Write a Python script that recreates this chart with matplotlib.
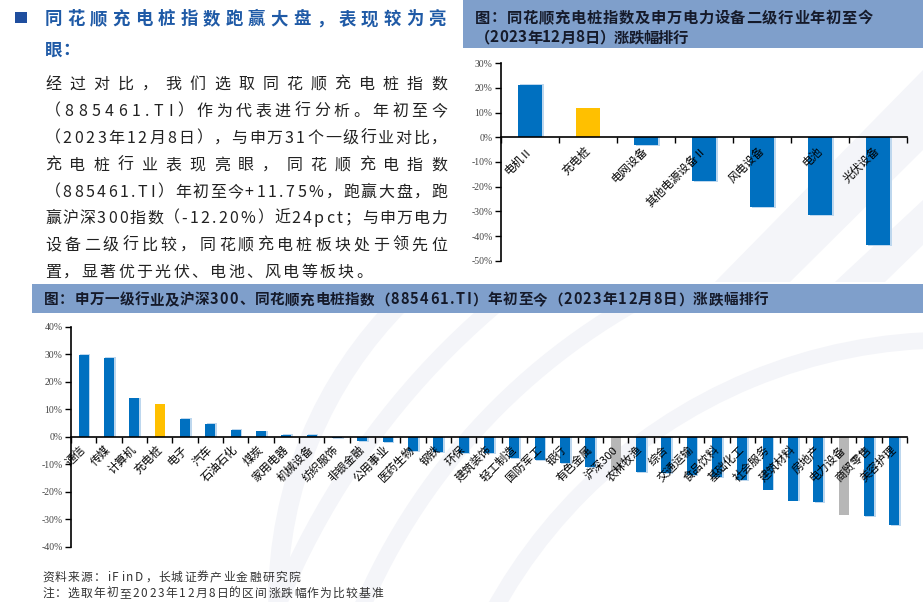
import numpy as np
import matplotlib
matplotlib.use('Agg')
import matplotlib.pyplot as plt
from matplotlib.patches import Rectangle, Polygon, Arc

plt.rcParams['font.family'] = ['Noto Sans CJK SC', 'DejaVu Sans']
plt.rcParams['axes.unicode_minus'] = False

# data
top_cats = ['电机Ⅱ', '充电桩', '电网设备', '其他电源设备Ⅱ', '风电设备', '电池', '光伏设备']
top_vals = [21.2, 11.75, -3.1, -17.7, -28.2, -31.6, -43.5]

bot_cats = ['通信', '传媒', '计算机', '充电桩', '电子', '汽车', '石油石化', '煤炭', '家用电器',
            '机械设备', '纺织服饰', '非银金融', '公用事业', '医药生物', '钢铁', '环保', '建筑装饰',
            '轻工制造', '国防军工', '银行', '有色金属', '沪深300', '农林牧渔', '综合', '交通运输',
            '食品饮料', '基础化工', '社会服务', '建筑材料', '房地产', '电力设备', '商贸零售', '美容护理']
bot_vals = [29.7, 28.5, 13.9, 11.75, 6.3, 4.5, 2.3, 1.9, 0.8,
            0.8, -0.6, -1.7, -2.1, -5.3, -5.7, -5.9, -6.0,
            -7.9, -8.6, -9.6, -11.0, -12.2, -13.0, -13.2, -14.0,
            -14.7, -15.9, -19.2, -23.2, -23.9, -28.5, -29.0, -32.1]

heading = ['同花顺充电桩指数跑赢大盘，表现较为亮', '眼：']
para = ['经过对比，我们选取同花顺充电桩指数',
        '（885461.TI）作为代表进行分析。年初至今',
        '（2023年12月8日），与申万31个一级行业对比，',
        '充电桩行业表现亮眼，同花顺充电指数',
        '（885461.TI）年初至今+11.75%，跑赢大盘，跑',
        '赢沪深300指数（-12.20%）近24pct；与申万电力',
        '设备二级行比较，同花顺充电桩板块处于领先位',
        '置，显著优于光伏、电池、风电等板块。']
top_title = ['图：同花顺充电桩指数及申万电力设备二级行业年初至今', '（2023年12月8日）涨跌幅排行']
bot_title = '图：申万一级行业及沪深300、同花顺充电桩指数（885461.TI）年初至今（2023年12月8日）涨跌幅排行'
notes = ['资料来源：iFinD，长城证券产业金融研究院', '注：选取年初至2023年12月8日的区间涨跌幅作为比较基准']

BLUE = '#0070C0'
YELLOW = '#FFC000'
GRAY = '#B7B7B7'
SHADOW = '#BDD7EE'
BAND = '#7F9FCB'

W, H = 923, 602
fig = plt.figure(figsize=(W / 100, H / 100), dpi=100)
r = fig.canvas.get_renderer()

# background layer in pixel coords
bg = fig.add_axes([0, 0, 1, 1], zorder=-5)
bg.set_xlim(0, W)
bg.set_ylim(H, 0)
bg.axis('off')
light = '#F4F5F9'
bg.add_patch(Polygon([(715, 282), (790, 282), (923, 150), (923, 70)], color=light, lw=0))
bg.add_patch(Polygon([(835, 282), (885, 282), (923, 245), (923, 200)], color=light, lw=0))
clip = Rectangle((0, 313), W, H - 313, transform=bg.transData)
for cx, cy, rad, lw in [(700, 600, 422, 14), (950, 860, 520, 12), (950, 860, 640, 12), (1000, 900, 780, 12)]:
    a = Arc((cx, cy), 2 * rad, 2 * rad, theta1=0, theta2=360, color=light, lw=lw)
    bg.add_patch(a)
    a.set_clip_path(clip)

bg.add_patch(Rectangle((463, 0), W - 463, 48, color=BAND, lw=0))
bg.add_patch(Rectangle((32, 284), W - 32, 29, color=BAND, lw=0))
bg.add_patch(Rectangle((15, 12), 12, 11, color='#1F4E9E', lw=0))


def jtext(s, x0, x1, y, size, color, weight='normal'):
    # place characters one by one so the line fills x0..x1
    px = size * 100 / 72
    objs, ws = [], []
    for c in s:
        t = fig.text(0, 0, c, fontsize=size, color=color, weight=weight, ha='left', va='baseline')
        if ord(c) > 0x2E80:
            w = px
        else:
            w = t.get_window_extent(r).width + 0.06 * px
        objs.append(t)
        ws.append(w)
    gap = (x1 - x0 - sum(ws)) / max(len(s) - 1, 1)
    x = x0
    for t, w in zip(objs, ws):
        t.set_position((x / W, 1 - (y + 0.36 * px) / H))
        x += w + gap


jtext(heading[0], 45, 446, 18, 12.5, '#1F5AA6', 'bold')
jtext(heading[1], 45, 80, 49, 12.5, '#1F5AA6', 'bold')
para_y = [83, 110, 137, 164, 191, 217, 244, 271]
for i, line in enumerate(para):
    x1 = 447 if i < len(para) - 1 else 372
    jtext(line, 45, x1, para_y[i], 11.5, '#222222')

jtext(top_title[0], 475, 873, 17, 11, '#151a2a', 'bold')
jtext(top_title[1], 475, 688, 37, 11, '#151a2a', 'bold')
jtext(bot_title, 44, 768, 299, 10.5, '#151a2a', 'bold')
jtext(notes[0], 42, 300, 577, 8.5, '#333333')
jtext(notes[1], 42, 383, 593, 8.5, '#333333')


def bar_chart(ax, cats, vals, colors, ylo, yhi, sh):
    x = np.arange(len(cats))
    for xi, v, c in zip(x, vals, colors):
        if c == BLUE:
            ax.bar(xi + sh, v + np.sign(v) * 0.35, 0.4, color=SHADOW, zorder=1)
        ax.bar(xi, v, 0.4, color=c, zorder=2)
    ax.set_axisbelow(False)
    ax.set_xlim(-0.5, len(cats) - 0.5)
    ax.set_ylim(ylo, yhi)
    ax.patch.set_alpha(0)
    for s in ['top', 'right']:
        ax.spines[s].set_visible(False)
    ax.spines['bottom'].set_position(('data', 0))
    ax.spines['bottom'].set_zorder(3)
    for s in ['bottom', 'left']:
        ax.spines[s].set_linewidth(1.2)
    ax.set_xticks(x)
    ax.set_xticklabels(cats, rotation=45, ha='right', va='center', rotation_mode='anchor', fontsize=8.2)
    ax.tick_params(axis='x', which='major', length=0, pad=8)
    ax.set_xticks(np.arange(-0.5, len(cats)), minor=True)
    ax.tick_params(axis='x', which='minor', length=4, direction='out', width=1)
    yt = np.arange(ylo, yhi + 1, 10)
    ax.set_yticks(yt)
    ax.set_yticklabels([f'{v}%' for v in yt], family='Liberation Serif', fontsize=7, color='#444444')
    ax.tick_params(axis='y', length=4, width=1, direction='out', pad=2)


ax1 = fig.add_axes([501 / W, 1 - 260.7 / H, 406 / W, 197.4 / H])
c1 = [YELLOW if c == '充电桩' else BLUE for c in top_cats]
bar_chart(ax1, top_cats, top_vals, c1, -50, 30, 0.035)

ax2 = fig.add_axes([71 / W, 1 - 546.7 / H, 836 / W, 220 / H])
c2 = []
for c in bot_cats:
    if c == '充电桩':
        c2.append(YELLOW)
    elif c in ('沪深300', '电力设备'):
        c2.append(GRAY)
    else:
        c2.append(BLUE)
bar_chart(ax2, bot_cats, bot_vals, c2, -40, 40, 0.06)

fig.savefig('out.png', dpi=100)
